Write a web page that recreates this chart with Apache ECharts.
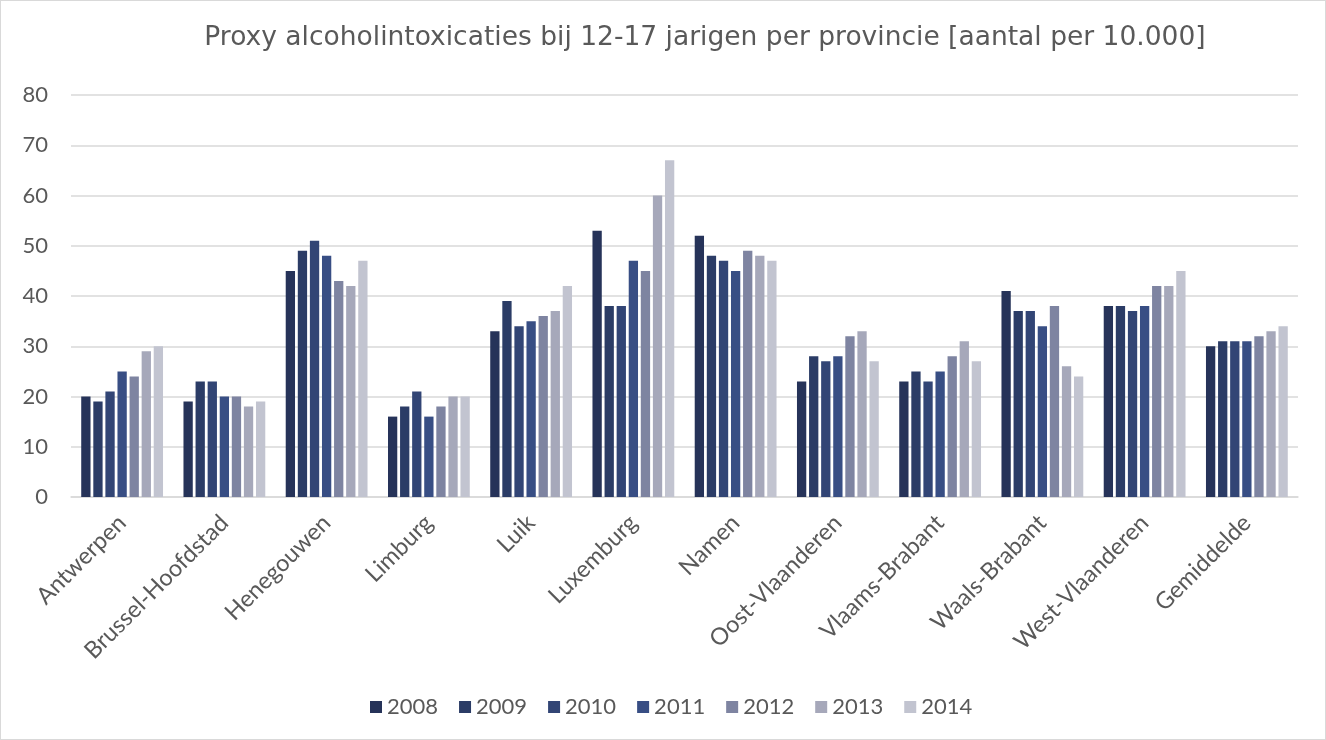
<!DOCTYPE html>
<html><head><meta charset="utf-8">
<script src="https://cdn.jsdelivr.net/npm/echarts@6/dist/echarts.min.js"></script>
<style>html,body{margin:0;padding:0;background:#fff}#c{width:1324px;height:738px;border:1px solid #d9d9d9}</style>
</head><body><div id="c"></div>
<script>
const categories = ['Antwerpen','Brussel-Hoofdstad','Henegouwen','Limburg','Luik','Luxemburg','Namen','Oost-Vlaanderen','Vlaams-Brabant','Waals-Brabant','West-Vlaanderen','Gemiddelde'];
const years = ['2008','2009','2010','2011','2012','2013','2014'];
const v2008 = [20,19,45,16,33,53,52,23,23,41,38,30];
const v2009 = [19,23,49,18,39,38,48,28,25,37,38,31];
const v2010 = [21,23,51,21,34,38,47,27,23,37,37,31];
const v2011 = [25,20,48,16,35,47,45,28,25,34,38,31];
const v2012 = [24,20,43,18,36,45,49,32,28,38,42,32];
const v2013 = [29,18,42,20,37,60,48,33,31,26,42,33];
const v2014 = [30,19,47,20,42,67,47,27,27,24,45,34];
const seriesData = [v2008,v2009,v2010,v2011,v2012,v2013,v2014];
const colors = ['#263359','#2b3c66','#324575','#384e84','#7e84a1','#a6a8ba','#c2c4d0'];
const font = 'Lato';
const chart = echarts.init(document.getElementById('c'));
chart.setOption({
  animation:false,
  color:colors,
  title:{text:'Proxy alcoholintoxicaties bij 12-17 jarigen per provincie [aantal per 10.000]',left:699,textAlign:'center',top:19,textStyle:{fontFamily:'DejaVu Sans',fontSize:26.5,fontWeight:'normal',color:'#595959'}},
  legend:{bottom:16,left:364,itemWidth:12,itemHeight:12,itemGap:21,icon:'rect',textStyle:{fontFamily:font,fontSize:22,color:'#595959'},data:years},
  grid:{left:70,right:27,top:94,bottom:242,containLabel:false},
  xAxis:{type:'category',data:categories,axisTick:{show:false},axisLine:{lineStyle:{color:'#d9d9d9',width:1.5}},
    axisLabel:{rotate:45,interval:0,fontFamily:font,fontSize:23.5,color:'#595959',margin:22}},
  yAxis:{type:'value',min:0,max:80,interval:10,axisLine:{show:false},axisTick:{show:false},
    splitLine:{lineStyle:{color:'#d9d9d9',width:1.5}},
    axisLabel:{fontFamily:font,fontSize:22,color:'#595959',margin:23}},
  series:years.map((y,i)=>({name:y,type:'bar',data:seriesData[i],barGap:'30%',barCategoryGap:'20%',itemStyle:{color:colors[i]}}))
});
</script></body></html>
